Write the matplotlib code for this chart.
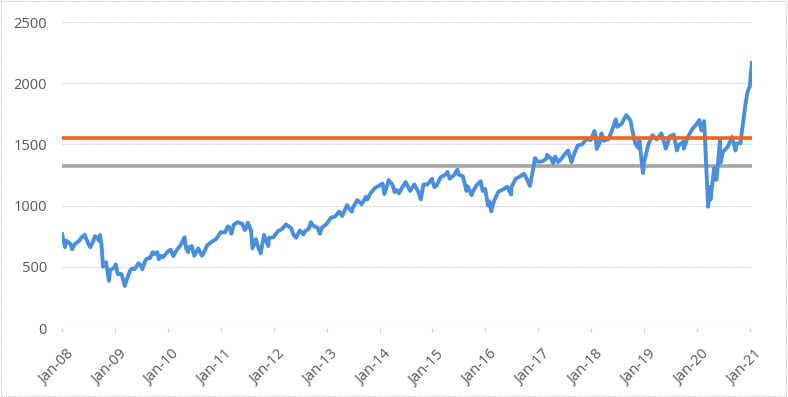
import matplotlib
matplotlib.use("Agg")
import matplotlib.pyplot as plt
import matplotlib.patches as patches
import matplotlib.transforms as mtransforms
import pandas as pd

dates = [
 "2008-01-02","2008-01-22","2008-01-31","2008-02-15","2008-02-29","2008-03-10","2008-03-31","2008-04-15","2008-04-30","2008-05-15","2008-05-30","2008-06-05","2008-06-30","2008-07-15","2008-07-31","2008-08-15","2008-08-29","2008-09-15","2008-09-19","2008-09-30","2008-10-10","2008-10-31","2008-11-20","2008-11-28","2008-12-15","2008-12-31",
 "2009-01-06","2009-01-20","2009-01-31","2009-02-15","2009-02-27","2009-03-09","2009-03-31","2009-04-15","2009-04-30","2009-05-15","2009-05-29","2009-06-12","2009-06-30","2009-07-08","2009-07-31","2009-08-15","2009-08-31","2009-09-18","2009-09-30","2009-10-19","2009-10-30","2009-11-15","2009-11-30","2009-12-31",
 "2010-01-20","2010-02-08","2010-02-26","2010-03-31","2010-04-26","2010-05-07","2010-05-20","2010-05-31","2010-06-15","2010-07-02","2010-07-30","2010-08-24","2010-08-31","2010-09-30","2010-10-29","2010-11-30","2010-12-31",
 "2011-01-31","2011-02-18","2011-02-28","2011-03-16","2011-03-31","2011-04-29","2011-05-31","2011-06-16","2011-06-30","2011-07-07","2011-07-29","2011-08-08","2011-08-31","2011-09-22","2011-09-30","2011-10-03","2011-10-27","2011-10-31","2011-11-25","2011-11-30","2011-12-30",
 "2012-01-31","2012-02-29","2012-03-26","2012-04-30","2012-05-18","2012-06-04","2012-06-29","2012-07-25","2012-07-31","2012-08-31","2012-09-14","2012-09-28","2012-10-31","2012-11-15","2012-11-30","2012-12-31",
 "2013-01-31","2013-02-28","2013-03-28","2013-04-18","2013-04-30","2013-05-22","2013-05-31","2013-06-24","2013-06-28","2013-07-31","2013-08-30","2013-09-30","2013-10-08","2013-10-31","2013-11-29","2013-12-31",
 "2014-01-22","2014-02-03","2014-02-28","2014-03-04","2014-03-31","2014-04-15","2014-04-30","2014-05-15","2014-05-30","2014-06-30","2014-07-31","2014-08-29","2014-09-30","2014-10-13","2014-10-31","2014-11-28","2014-12-29","2014-12-31",
 "2015-01-15","2015-01-30","2015-02-27","2015-03-31","2015-04-15","2015-04-30","2015-05-29","2015-06-23","2015-06-30","2015-07-31","2015-08-24","2015-08-31","2015-09-29","2015-09-30","2015-10-30","2015-11-30","2015-12-14","2015-12-31",
 "2016-01-20","2016-01-29","2016-02-11","2016-02-29","2016-03-31","2016-04-29","2016-05-31","2016-06-27","2016-06-30","2016-07-29","2016-08-31","2016-09-22","2016-09-30","2016-11-04","2016-11-30","2016-12-09","2016-12-30",
 "2017-01-31","2017-02-28","2017-03-01","2017-03-31","2017-04-13","2017-04-28","2017-05-17","2017-05-31","2017-06-30","2017-07-25","2017-07-31","2017-08-18","2017-08-31","2017-09-29","2017-10-31","2017-11-30","2017-12-29",
 "2018-01-23","2018-01-31","2018-02-08","2018-02-28","2018-03-13","2018-03-29","2018-04-30","2018-05-31","2018-06-20","2018-06-29","2018-07-31","2018-08-31","2018-09-28","2018-10-31","2018-11-23","2018-11-30","2018-12-24","2018-12-31",
 "2019-01-31","2019-02-28","2019-03-29","2019-04-30","2019-05-31","2019-06-28","2019-07-26","2019-08-15","2019-08-30","2019-09-30","2019-10-02","2019-10-31","2019-11-29","2019-12-31",
 "2020-01-17","2020-01-31","2020-02-20","2020-02-28","2020-03-18","2020-03-31","2020-04-03","2020-04-30","2020-05-14","2020-05-29","2020-06-08","2020-06-11","2020-06-30","2020-07-31","2020-08-31","2020-09-23","2020-09-30","2020-10-28","2020-10-30","2020-11-30","2020-12-15","2020-12-31","2021-01-08","2021-01-14",
]
values = [
 766,660,713,700,686,643,687,700,714,742,749,763,689,660,700,750,739,710,760,679,500,537,385,473,485,499,
 520,440,443,440,389,343,422,470,487,480,501,530,508,480,557,570,572,620,604,620,562,590,579,625,
 640,587,628,679,741,650,620,662,670,590,650,590,602,676,703,727,783,
 781,830,823,770,843,865,848,800,827,860,797,650,726,640,644,609,760,741,670,737,741,
 792,810,846,816,760,737,798,765,786,812,864,837,818,770,822,849,
 902,911,951,915,947,1005,984,950,977,1045,1011,1073,1050,1100,1143,1164,
 1180,1095,1183,1208,1173,1110,1127,1100,1134,1193,1120,1174,1101,1050,1173,1173,1219,1205,
 1150,1165,1233,1252,1275,1220,1247,1295,1254,1238,1120,1159,1085,1100,1162,1199,1120,1136,
 1000,1035,953,1034,1114,1130,1154,1090,1152,1220,1240,1260,1252,1160,1322,1388,1357,
 1362,1387,1414,1385,1345,1400,1355,1370,1415,1450,1425,1355,1405,1490,1502,1544,1536,
 1610,1575,1463,1512,1590,1530,1542,1634,1705,1643,1670,1740,1697,1511,1470,1533,1266,1349,
 1500,1576,1540,1591,1466,1567,1580,1450,1495,1523,1465,1562,1625,1668,
 1700,1614,1690,1476,991,1153,1050,1310,1210,1394,1535,1350,1441,1480,1561,1450,1507,1510,1538,1819,1930,1975,2090,2165,
]
upper_level = 1550
lower_level = 1325
year_ticks = ["2008","2009","2010","2011","2012","2013","2014","2015","2016","2017","2018","2019","2020","2021"]
y_ticks = [0, 500, 1000, 1500, 2000, 2500]

x = pd.to_datetime(dates)
fig = plt.figure(figsize=(7.88, 3.97), dpi=100)
ax = fig.add_axes([62/788, 1-328/397, (752-62)/788, (328-22)/397])

xmin, xmax = pd.Timestamp("2008-01-01"), pd.Timestamp("2021-01-15")
ax.plot(x, values, color="#4A8FDF", lw=2.8, zorder=3, solid_joinstyle="round")
ax.plot([xmin, xmax], [upper_level, upper_level], color="#F0641E", lw=2.6, zorder=4)
ax.plot([xmin, xmax], [lower_level, lower_level], color="#A5A5A5", lw=2.6, zorder=2)

ax.set_xlim(xmin, xmax)
ax.set_ylim(0, 2500)
ax.set_yticks(y_ticks)
ax.set_yticklabels([str(v) for v in y_ticks])
ticks = pd.to_datetime([y + "-01-01" for y in year_ticks])
ax.set_xticks(ticks)
ax.set_xticklabels(["Jan-" + y[2:] for y in year_ticks], rotation=45, ha="right",
                   rotation_mode="anchor", va="top")
for s in ax.spines.values():
    s.set_visible(False)
ax.grid(axis="y", color="#c8c8c8", linestyle=(0, (1, 1)), lw=0.8)
ax.set_axisbelow(True)
ax.tick_params(axis="y", length=0, pad=10.8, labelsize=10.5, labelcolor="#595959")
ax.tick_params(axis="x", length=3, color="#d0d0d0", pad=11, labelsize=10.5, labelcolor="#595959")
offset = mtransforms.ScaledTranslation(4/100, 0, fig.dpi_scale_trans)
for lab in ax.get_xticklabels():
    lab.set_fontfamily("Open Sans")
    lab.set_transform(lab.get_transform() + offset)
for lab in ax.get_yticklabels():
    lab.set_fontfamily("Open Sans")

fig.add_artist(patches.Rectangle((0.001, 0.002), 0.997, 0.995, transform=fig.transFigure,
                                 fill=False, edgecolor="#bfbfbf", linestyle=(0, (1, 1)), lw=0.8))
fig.savefig("out.png", dpi=100)
